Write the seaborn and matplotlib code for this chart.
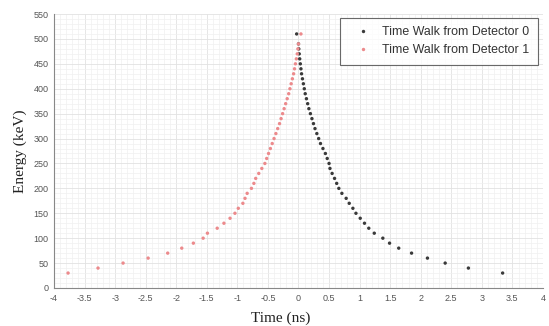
import numpy as np
import pandas as pd
import matplotlib
matplotlib.use("Agg")
import matplotlib.pyplot as plt
import seaborn as sns
from matplotlib.ticker import MultipleLocator

energy_det0 = [30, 40, 50, 60, 70, 80, 90, 100, 110, 120, 130, 140, 150, 160, 170, 180, 190, 200,
               210, 220, 230, 240, 250, 260, 270, 280, 290, 300, 310, 320, 330, 340, 350, 360,
               370, 380, 390, 400, 410, 420, 430, 440, 450, 460, 470, 480, 490, 510]
time_det0 = [3.34, 2.78, 2.40, 2.11, 1.85, 1.64, 1.49, 1.38, 1.24, 1.15, 1.08, 1.01, 0.94, 0.89,
             0.83, 0.78, 0.71, 0.66, 0.625, 0.59, 0.55, 0.515, 0.50, 0.47, 0.44, 0.40, 0.36, 0.33,
             0.30, 0.27, 0.245, 0.22, 0.195, 0.17, 0.15, 0.13, 0.11, 0.095, 0.08, 0.065, 0.05,
             0.04, 0.03, 0.02, 0.012, 0.005, 0.0, -0.03]

energy_det1 = [30, 40, 50, 60, 70, 80, 90, 100, 110, 120, 130, 140, 150, 160, 170, 180, 190, 200,
               210, 220, 230, 240, 250, 260, 270, 280, 290, 300, 310, 320, 330, 340, 350, 360,
               370, 380, 390, 400, 410, 420, 430, 440, 450, 460, 470, 480, 490, 510]
time_det1 = [-3.77, -3.28, -2.87, -2.46, -2.14, -1.91, -1.72, -1.56, -1.49, -1.33, -1.22, -1.12,
             -1.04, -0.985, -0.91, -0.875, -0.84, -0.77, -0.73, -0.70, -0.65, -0.60, -0.55, -0.52,
             -0.49, -0.46, -0.43, -0.40, -0.37, -0.34, -0.31, -0.285, -0.26, -0.235, -0.21,
             -0.185, -0.16, -0.14, -0.12, -0.10, -0.08, -0.065, -0.05, -0.035, -0.02, -0.01,
             0.0, 0.04]

labels = ["Time Walk from Detector 0", "Time Walk from Detector 1"]

df = pd.concat([
    pd.DataFrame({"Time": time_det0, "Energy": energy_det0, "Series": labels[0]}),
    pd.DataFrame({"Time": time_det1, "Energy": energy_det1, "Series": labels[1]}),
])

sns.set_style("white")
plt.rcParams['font.family'] = ['Liberation Sans', 'DejaVu Sans']

fig = plt.figure(figsize=(5.49, 3.26), dpi=100)
ax = fig.add_axes([0.0984, 0.1166, 0.8906, 0.8404])

sns.scatterplot(data=df, x="Time", y="Energy", hue="Series",
                palette={labels[0]: "#3a3a3a", labels[1]: "#ec8a8c"},
                s=6, marker="o", edgecolor="none", ax=ax, zorder=3)

ax.set_xlim(-4, 4)
ax.set_ylim(0, 550)
ax.xaxis.set_minor_locator(MultipleLocator(0.1))
ax.yaxis.set_major_locator(MultipleLocator(50))
ax.yaxis.set_minor_locator(MultipleLocator(10))
ax.set_xticks(np.arange(-4, 4.01, 0.5))
ax.set_xticklabels([f"{v:g}" for v in np.arange(-4, 4.01, 0.5)])

ax.grid(which="major", color="#e2e2e2", linewidth=0.6)
ax.grid(which="minor", color="#f0f0f0", linewidth=0.5)
ax.set_axisbelow(True)

for s in ["top", "right"]:
    ax.spines[s].set_visible(False)
for s in ["left", "bottom"]:
    ax.spines[s].set_color("#888888")
    ax.spines[s].set_linewidth(0.8)

ax.tick_params(axis="both", which="major", direction="in", length=3, width=0.6,
               colors="#888888", labelcolor="#555555", labelsize=6.5, pad=4)
ax.tick_params(axis="both", which="minor", length=0)

ax.set_xlabel("Time (ns)", family=["Liberation Serif"], fontsize=11, color="#222222")
ax.xaxis.set_label_coords(0.464, -0.085)
ax.set_ylabel("Energy (keV)", family=["Liberation Serif"], fontsize=11, color="#222222")
ax.yaxis.set_label_coords(-0.056, 0.5)

leg = ax.legend(loc="upper right", fontsize=8.9, frameon=True, fancybox=False,
                edgecolor="#444444", markerscale=1.0, borderpad=0.7, handletextpad=0.5,
                handlelength=2.2, labelspacing=0.45, borderaxespad=0.3,
                bbox_to_anchor=(0.998, 1.0))
leg.get_frame().set_linewidth(0.8)
for t in leg.get_texts():
    t.set_color("#333333")

fig.savefig("out.png", dpi=100, facecolor="white")
